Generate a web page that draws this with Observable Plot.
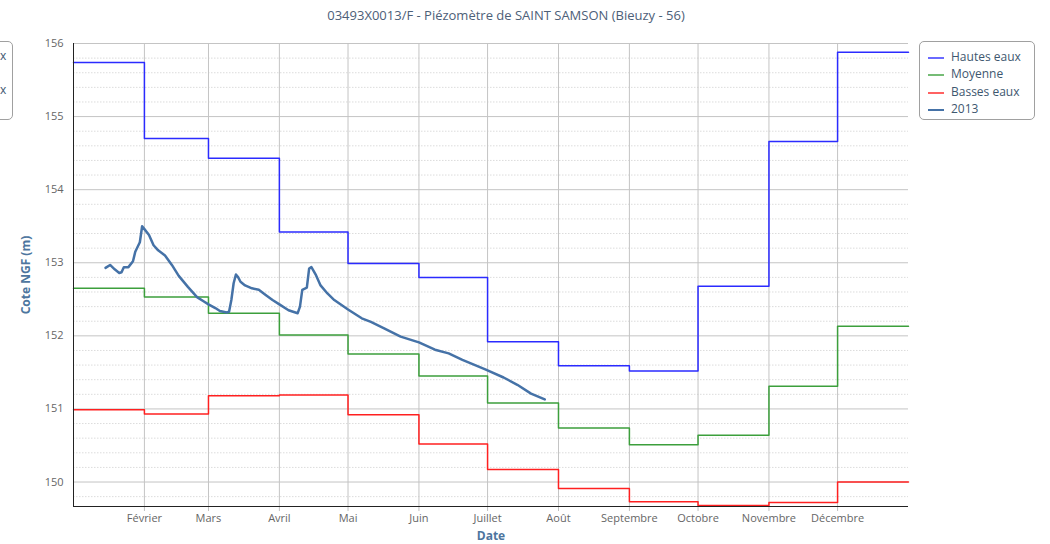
<!DOCTYPE html>
<html><head><meta charset="utf-8">
<script src="https://cdn.jsdelivr.net/npm/d3@7"></script>
<script src="https://cdn.jsdelivr.net/npm/@observablehq/plot@0.6"></script>
<style>
body{margin:0;background:#fff;font-family:"Open Sans",sans-serif;}
#wrap{position:relative;width:1050px;height:544px;overflow:hidden;}
#title{position:absolute;top:6px;left:0;width:1012px;text-align:center;font-size:13px;color:#4d6078;white-space:nowrap;}
#ytitle{position:absolute;left:25px;top:275px;transform:translate(-50%,-50%) rotate(-90deg);font-size:12px;font-weight:bold;color:#4d759e;white-space:nowrap;}
#xtitle{position:absolute;left:491px;top:535px;transform:translate(-50%,-50%);font-size:12px;font-weight:bold;color:#4d759e;}
#legend{position:absolute;left:919px;top:41px;width:116px;height:79px;border:1px solid #a0a0a0;border-radius:5px;box-sizing:border-box;}
.item{position:absolute;left:0;height:17px;font-size:12px;color:#3e576f;white-space:nowrap;}
.item .sw{position:absolute;left:8px;top:8px;width:16px;height:2px;}
.item .tx{position:absolute;left:31px;top:-1px;}
#leftbox{position:absolute;left:-120px;top:41px;width:133px;height:79px;border:1px solid #a0a0a0;border-radius:5px;box-sizing:border-box;}
.lx{position:absolute;left:0px;font-size:12px;color:#3e576f;white-space:nowrap;}
</style>
</head><body>
<div id="wrap">
  <div id="chart"></div>
  <div id="title"></div>
  <div id="ytitle"></div>
  <div id="xtitle"></div>
  <div id="leftbox"></div>
  <div class="lx" style="top:47px">x</div>
  <div class="lx" style="top:81px">x</div>
  <div id="legend"></div>
</div>
<script>
const titleText = "03493X0013/F - Piézomètre de SAINT SAMSON (Bieuzy - 56)";
const yTitle = "Cote NGF (m)";
const xTitle = "Date";
const monthLabels = ["Janvier","Février","Mars","Avril","Mai","Juin","Juillet","Août","Septembre","Octobre","Novembre","Décembre"];
const seriesNames = ["Hautes eaux","Moyenne","Basses eaux","2013"];
const seriesColors = ["#2b2bff","#3c9f3c","#ff2020","#4572a7"];
const hautesEaux = [155.74,154.70,154.43,153.42,152.99,152.80,151.92,151.59,151.52,152.68,154.66,155.88];
const moyenne    = [152.65,152.53,152.31,152.01,151.75,151.45,151.08,150.74,150.51,150.64,151.31,152.13];
const bassesEaux = [150.99,150.93,151.18,151.19,150.92,150.52,150.17,149.91,149.73,149.68,149.72,150.00];
const yTicks = [150,151,152,153,154,155,156];
const obsDates = ["2013-01-15","2013-01-17","2013-01-19","2013-01-21","2013-01-22","2013-01-23","2013-01-25","2013-01-27","2013-01-28","2013-01-30","2013-01-31",
  "2013-02-01","2013-02-03","2013-02-05","2013-02-07","2013-02-10","2013-02-13","2013-02-16","2013-02-20","2013-02-24","2013-02-27",
  "2013-03-01","2013-03-04","2013-03-06","2013-03-09","2013-03-10","2013-03-11","2013-03-12","2013-03-13","2013-03-14","2013-03-15","2013-03-17","2013-03-20","2013-03-23","2013-03-26","2013-03-29",
  "2013-04-01","2013-04-05","2013-04-09","2013-04-10","2013-04-11","2013-04-13","2013-04-14","2013-04-15","2013-04-17","2013-04-19","2013-04-22","2013-04-25",
  "2013-05-01","2013-05-07","2013-05-11","2013-05-17","2013-05-24",
  "2013-06-01","2013-06-08","2013-06-14","2013-06-20","2013-06-30",
  "2013-07-08","2013-07-14","2013-07-20","2013-07-26"];
const obsValues = [152.93,152.97,152.91,152.86,152.87,152.94,152.94,153.02,153.15,153.28,153.50,
  153.46,153.38,153.24,153.17,153.10,152.97,152.82,152.67,152.53,152.47,
  152.43,152.38,152.34,152.32,152.33,152.49,152.72,152.84,152.80,152.74,152.69,152.65,152.63,152.56,152.49,
  152.43,152.35,152.31,152.40,152.63,152.66,152.92,152.94,152.83,152.69,152.58,152.49,
  152.36,152.24,152.19,152.10,151.99,
  151.91,151.81,151.76,151.67,151.54,
  151.43,151.33,151.21,151.13];

const monthStart = i => new Date(Date.UTC(2013, i, 1));
const stepData = vals => vals.map((v,i)=>({date: monthStart(i), value: v}))
  .concat([{date: monthStart(12), value: vals[vals.length-1]}]);
const obs = obsDates.map((d,i)=>({date: new Date(d+"T00:00:00Z"), value: obsValues[i]}));
const monthTicks = d3.range(1,12).map(monthStart);
const yMin = 149.665, yMax = 156;
const minorTicks = d3.range(1, 32).map(k => 149.6 + 0.2*k).filter(v => Math.abs(v - Math.round(v)) > 0.01 && v < yMax);

const chart = Plot.plot({
  width: 1050, height: 544,
  marginLeft: 73, marginRight: 142, marginTop: 43, marginBottom: 38,
  style: {fontFamily: "Open Sans, sans-serif", fontSize: "11px", background: "#fff"},
  x: {type: "utc", domain: [monthStart(0), monthStart(12)]},
  y: {domain: [yMin, yMax]},
  marks: [
    Plot.gridY(minorTicks, {stroke: "#dcdcdc", strokeOpacity: 1, strokeDasharray: "1.5,1.5"}),
    Plot.gridY(yTicks, {stroke: "#c4c4c4", strokeOpacity: 1}),
    Plot.gridX(monthTicks, {stroke: "#c4c4c4", strokeOpacity: 1}),
    Plot.axisX(monthTicks, {tickSize: 5, tickPadding: 3, stroke: "#c0c0c0", fill: "#666",
      tickFormat: d => monthLabels[d.getUTCMonth()], label: null}),
    Plot.axisY(yTicks, {tickSize: 0, tickPadding: 10, fill: "#666", tickFormat: d => String(d), label: null}),
    Plot.line(stepData(hautesEaux), {x: "date", y: "value", curve: "step-after", stroke: seriesColors[0], strokeWidth: 1.5}),
    Plot.line(stepData(moyenne), {x: "date", y: "value", curve: "step-after", stroke: seriesColors[1], strokeWidth: 1.5}),
    Plot.line(stepData(bassesEaux), {x: "date", y: "value", curve: "step-after", stroke: seriesColors[2], strokeWidth: 1.5}),
    Plot.ruleY([yMin], {stroke: "#222", strokeWidth: 1}),
    Plot.ruleX([monthStart(0)], {stroke: "#222", strokeWidth: 1}),
    Plot.line(obs, {x: "date", y: "value", stroke: seriesColors[3], strokeWidth: 2.5, curve: "linear"})
  ]
});
document.getElementById("chart").appendChild(chart);
document.getElementById("title").textContent = titleText;
document.getElementById("ytitle").textContent = yTitle;
document.getElementById("xtitle").textContent = xTitle;
const leg = document.getElementById("legend");
seriesNames.forEach((n,i)=>{
  const it = document.createElement("div");
  it.className = "item";
  it.style.top = (7 + i*17.3) + "px";
  it.style.width = "100%";
  it.innerHTML = `<div class="sw" style="background:${seriesColors[i]};opacity:${i<3?0.7:1}"></div><div class="tx"></div>`;
  it.querySelector(".tx").textContent = n;
  leg.appendChild(it);
});
</script>
</body></html>
